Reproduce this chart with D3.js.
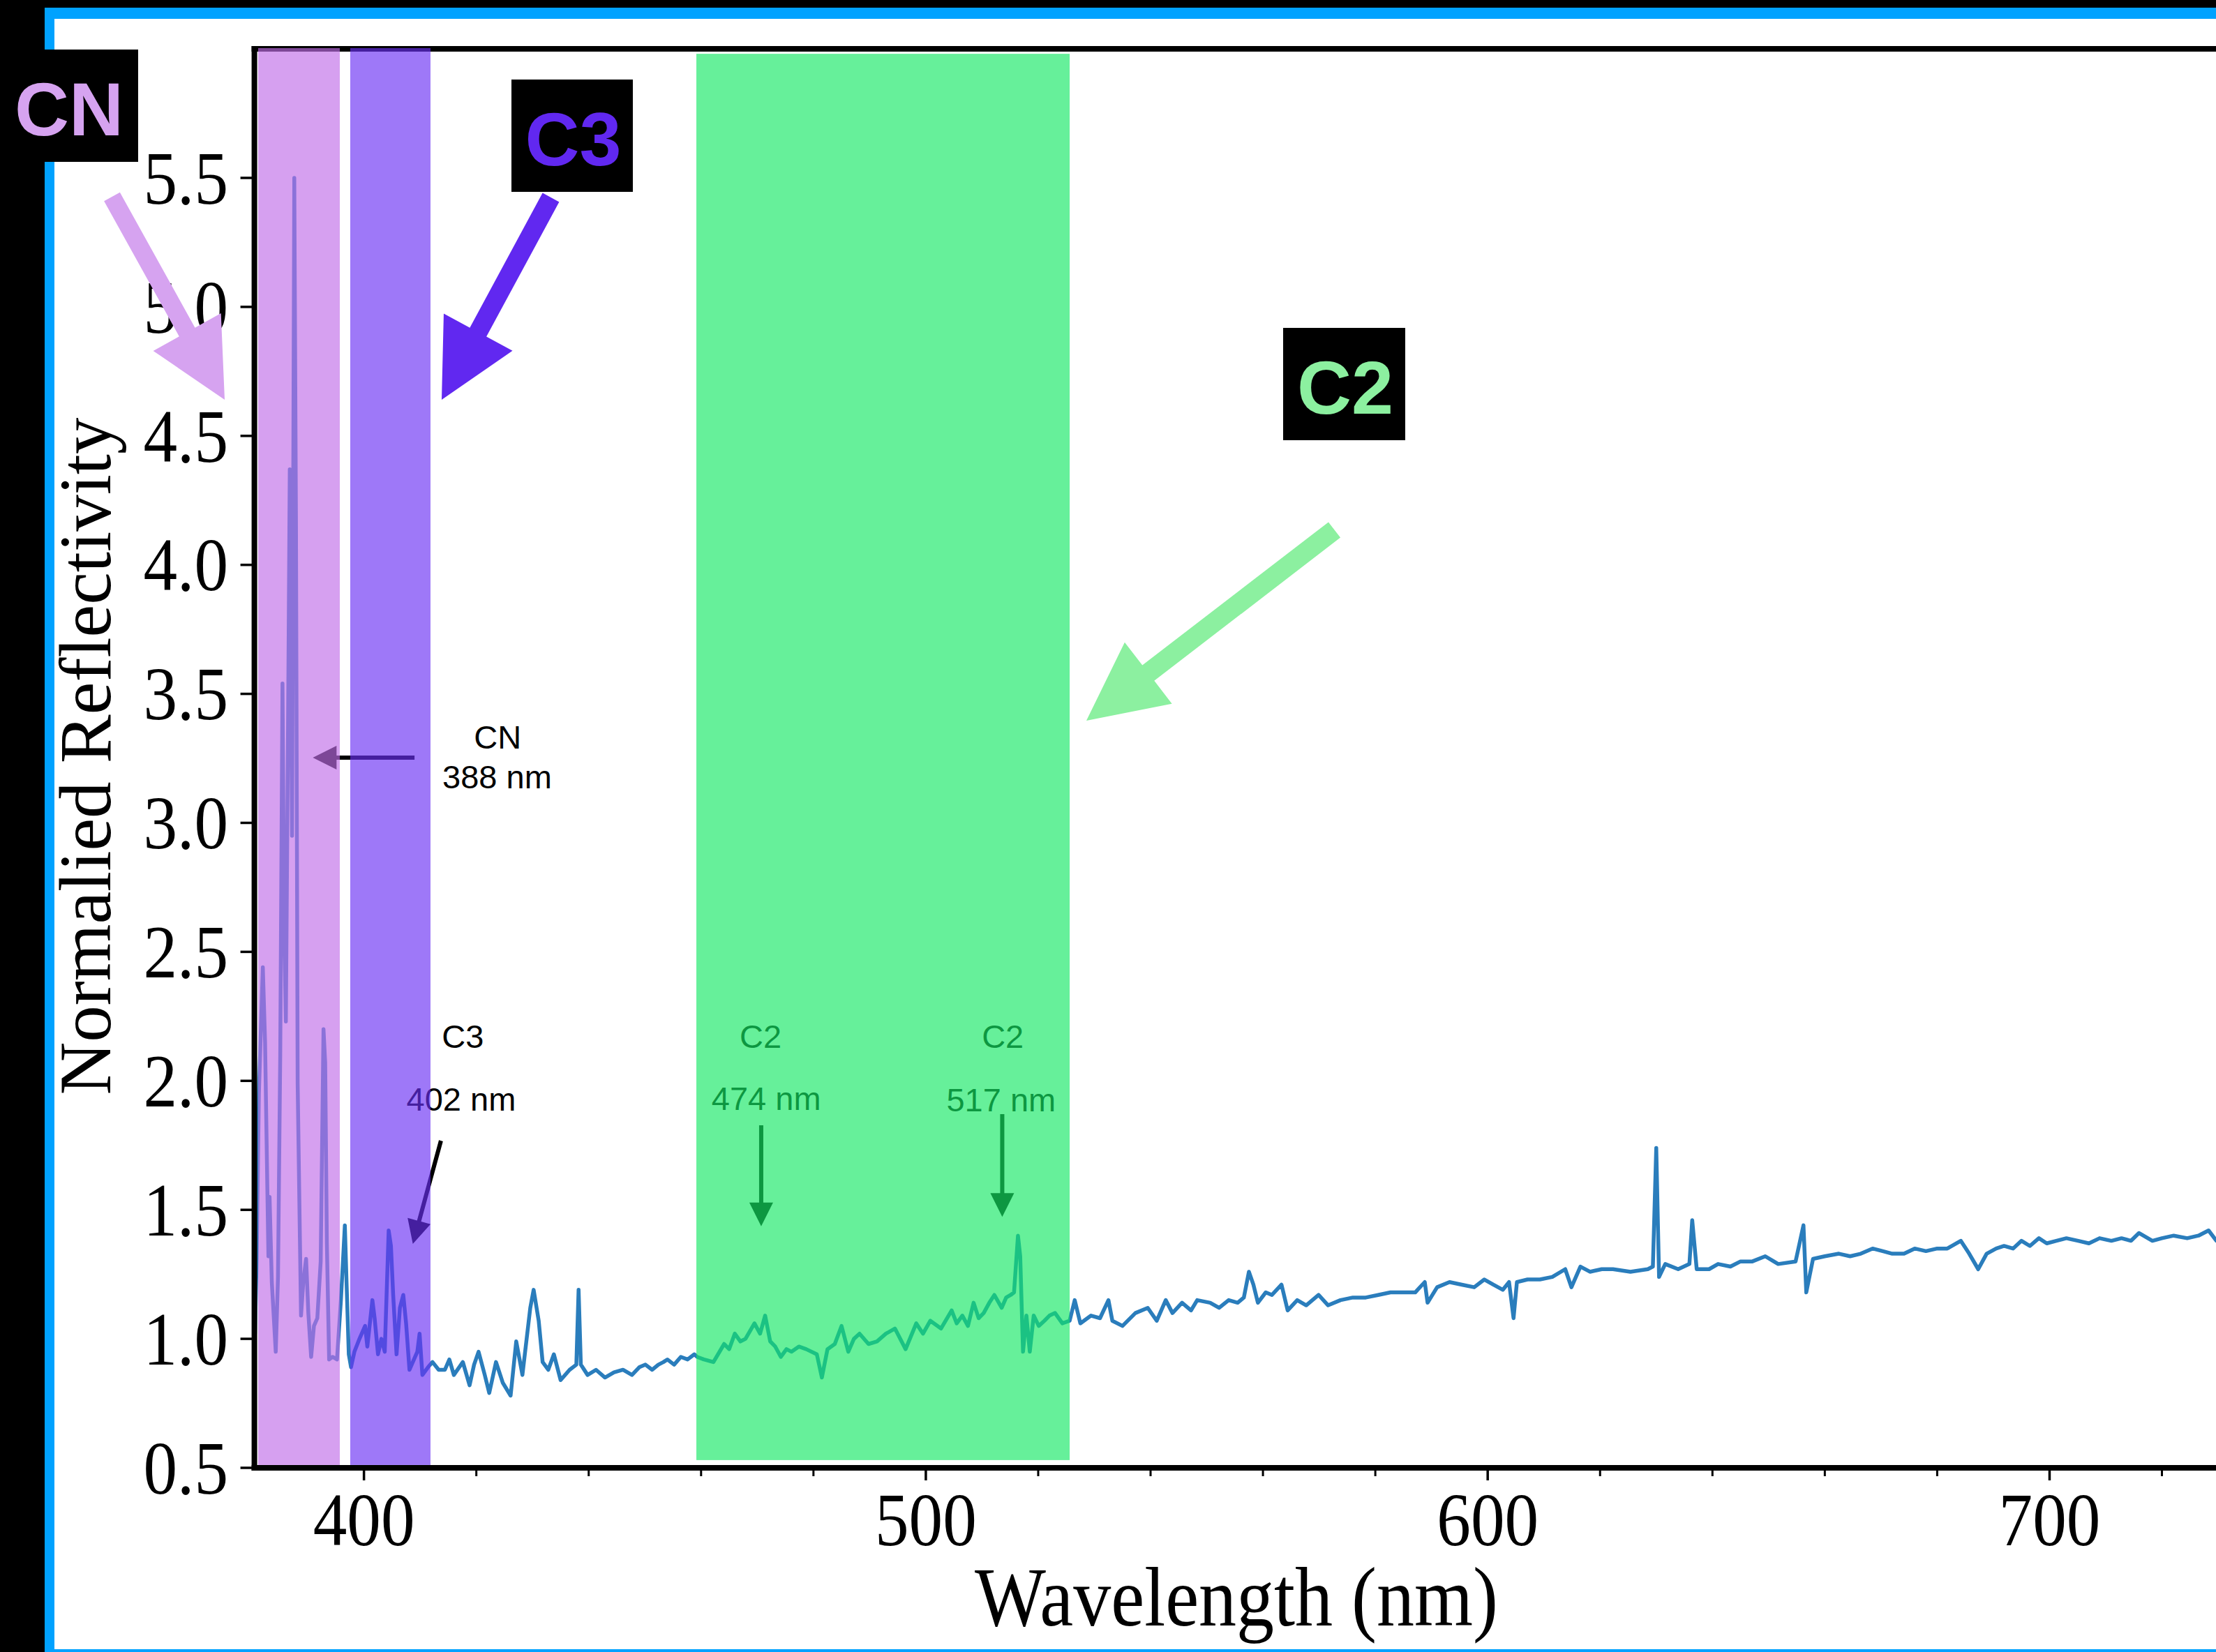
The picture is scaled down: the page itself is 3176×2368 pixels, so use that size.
<!DOCTYPE html>
<html><head><meta charset="utf-8">
<script src="https://cdn.jsdelivr.net/npm/d3@7"></script>
<style>html,body{margin:0;padding:0;background:#000;overflow:hidden}</style>
</head><body>
<svg id="chart" width="3176" height="2368"></svg>
<script>
// ---------- data ----------
const wavelength = [380.6,380.9,381.3,382.0,382.4,382.8,383.0,383.2,383.6,384.3,384.7,385.1,385.5,385.8,386.1,386.5,386.8,387.2,387.6,387.9,388.2,388.8,389.2,389.7,390.1,390.6,391.1,391.7,392.3,392.8,393.1,393.4,393.8,394.4,395.2,395.9,396.6,396.9,397.3,397.7,398.3,399.2,400.2,400.6,401.5,401.9,402.5,403.1,403.7,404.4,404.8,405.2,405.8,406.4,407.0,407.5,408.1,408.9,409.5,409.9,410.4,411.4,412.2,413.3,414.4,415.2,416.0,417.6,418.8,419.6,420.4,421.5,422.3,423.5,424.7,426.1,427.1,428.2,429.6,430.2,431.1,431.8,432.8,433.8,435.0,436.6,437.8,438.2,438.6,439.8,441.3,442.9,444.5,446.1,447.7,449.0,450.1,451.3,452.4,453.3,454.0,455.2,456.4,457.6,458.8,459.3,460.5,462.2,464.1,465.0,466.0,467.0,467.9,469.5,470.5,471.4,472.3,473.2,474.2,475.2,476.1,477.4,478.7,480.6,481.5,482.5,483.8,485.0,486.2,487.2,488.2,489.8,491.3,492.9,494.5,496.4,498.3,499.5,500.8,502.7,504.6,505.5,506.5,507.5,508.5,509.4,510.3,511.3,512.2,513.5,514.3,515.1,515.7,516.4,516.8,517.3,517.9,518.5,519.2,520.1,521.1,522.0,523.0,524.3,525.6,526.5,527.5,529.4,531.0,532.5,533.2,535.0,537.3,539.5,541.1,542.7,543.9,545.6,547.2,548.3,550.6,552.2,553.9,555.5,556.6,557.5,558.3,559.1,560.5,561.6,563.3,564.4,566.1,567.7,569.9,571.6,573.8,576.0,578.3,580.5,582.7,584.9,587.1,588.8,589.3,591.0,593.2,595.4,597.6,599.4,601.0,602.7,603.8,604.6,605.2,607.1,609.3,611.5,613.8,614.9,616.5,618.2,620.3,622.3,625.4,628.5,629.4,630.0,630.5,631.6,633.9,635.9,636.4,637.2,639.4,641.0,643.2,645.0,647.1,649.4,651.7,654.8,656.2,656.7,657.9,660.0,662.5,664.5,666.4,668.5,670.3,672.0,674.1,676.0,678.0,680.0,681.8,684.2,685.7,687.3,688.8,690.5,691.9,693.5,695.0,696.5,698.1,699.5,701.2,703.0,705.1,707.0,708.9,711.0,712.8,714.5,715.9,718.3,720.0,722.1,724.5,726.5,728.3,729.7,732.0];
const reflectivity = [1.02,1.31,1.95,2.44,2.15,1.59,1.32,1.55,1.22,0.95,1.24,2.10,3.54,2.60,2.23,3.40,4.37,2.95,5.50,4.15,1.99,1.09,1.22,1.31,1.10,0.93,1.05,1.08,1.30,2.20,2.07,1.37,0.92,0.93,0.92,1.15,1.44,1.22,0.94,0.89,0.95,1.00,1.05,0.97,1.15,1.08,0.94,1.00,0.95,1.42,1.36,1.17,0.94,1.12,1.17,1.06,0.88,0.92,0.95,1.02,0.86,0.89,0.91,0.88,0.88,0.92,0.86,0.91,0.82,0.90,0.95,0.86,0.79,0.91,0.83,0.78,0.99,0.86,1.12,1.19,1.07,0.91,0.88,0.94,0.84,0.88,0.90,1.19,0.90,0.86,0.88,0.85,0.87,0.88,0.86,0.89,0.90,0.88,0.90,0.91,0.92,0.90,0.93,0.92,0.94,0.93,0.92,0.91,0.98,0.96,1.02,0.99,1.00,1.06,1.02,1.09,0.99,0.97,0.93,0.96,0.95,0.97,0.96,0.94,0.85,0.96,0.98,1.05,0.95,1.00,1.02,0.98,0.99,1.02,1.04,0.96,1.06,1.02,1.07,1.04,1.11,1.06,1.09,1.05,1.14,1.08,1.10,1.14,1.17,1.12,1.16,1.17,1.18,1.40,1.32,0.95,1.09,0.95,1.09,1.05,1.07,1.09,1.10,1.06,1.07,1.15,1.06,1.09,1.08,1.15,1.07,1.05,1.10,1.12,1.07,1.15,1.10,1.14,1.11,1.15,1.14,1.12,1.15,1.14,1.16,1.26,1.21,1.14,1.18,1.17,1.21,1.11,1.15,1.13,1.17,1.13,1.15,1.16,1.16,1.17,1.18,1.18,1.18,1.22,1.14,1.20,1.22,1.21,1.20,1.23,1.21,1.19,1.22,1.08,1.22,1.23,1.23,1.24,1.27,1.20,1.28,1.26,1.27,1.27,1.26,1.27,1.28,1.74,1.24,1.29,1.27,1.29,1.46,1.27,1.27,1.29,1.28,1.30,1.30,1.32,1.29,1.30,1.44,1.18,1.31,1.32,1.33,1.32,1.33,1.35,1.34,1.33,1.33,1.35,1.34,1.35,1.35,1.38,1.33,1.27,1.33,1.35,1.36,1.35,1.38,1.36,1.39,1.37,1.38,1.39,1.38,1.37,1.39,1.38,1.39,1.38,1.41,1.38,1.39,1.40,1.39,1.40,1.42,1.38,1.40];

const yTickValues = [0.5,1.0,1.5,2.0,2.5,3.0,3.5,4.0,4.5,5.0,5.5];
const yTickLabels = ["0.5","1.0","1.5","2.0","2.5","3.0","3.5","4.0","4.5","5.0","5.5"];
const xMajorTicks = [400,500,600,700];
const xTickLabels = ["400","500","600","700"];
const xMinorTicks = [420,440,460,480,520,540,560,580,620,640,660,680,720,740];

const xTitle = "Wavelength (nm)";
const yTitle = "Normalied Reflectivity";

// highlighted emission bands (nm, reflectivity units)
const bandNames = ["CN","C3","C2"];
const bandStart = [381.17,397.56,459.16];
const bandEnd = [395.7,411.84,525.6];
const bandTop = [6.003,6.003,5.981];
const bandBottom = [0.511,0.511,0.530];

// line annotations
const annotSpecies = ["CN","C3","C2","C2"];
const annotWave = ["388 nm","402 nm","474 nm","517 nm"];
const annotSpeciesX = [423.8,417.6,470.6,513.7];
const annotSpeciesY = [3.288,2.128,2.128,2.128];
const annotWaveX = [423.7,417.3,471.6,513.4];
const annotWaveY = [3.134,1.885,1.887,1.882];
const arrowFromX = [409.0,413.7,470.7,513.6];
const arrowFromY = [3.253,1.768,1.828,1.871];
const arrowToX = [390.9,408.7,470.7,513.6];
const arrowToY = [3.253,1.368,1.436,1.473];

// ---------- layout ----------
const W = 3176, H = 2368;
const svg = d3.select("#chart");
const x = d3.scaleLinear().domain([380.5, 750]).range([364.6, 3340.1]);
const y = d3.scaleLinear().domain([0.5, 6.0]).range([2104, 70.1]);
const serif = "'Liberation Serif','Times New Roman',serif";
const sans = "'Liberation Sans',Arial,Helvetica,sans-serif";

// frame
svg.append("rect").attr("x",0).attr("y",0).attr("width",W).attr("height",H).attr("fill","#000");
svg.append("rect").attr("x",64).attr("y",11).attr("width",W).attr("height",H).attr("fill","#00A2FF");
svg.append("rect").attr("x",78).attr("y",27).attr("width",W).attr("height",2364-27).attr("fill","#fff");

// clip
const defs = svg.append("defs");
defs.append("clipPath").attr("id","plotclip").append("rect")
  .attr("x",x.range()[0]).attr("y",y.range()[1]).attr("width",x.range()[1]-x.range()[0]).attr("height",y.range()[0]-y.range()[1]);

// spectrum
const pts = wavelength.map((w,i)=>[w, reflectivity[i]]);
svg.append("path").datum(pts)
  .attr("clip-path","url(#plotclip)")
  .attr("fill","none").attr("stroke","#2a7dbc").attr("stroke-width",5.5)
  .attr("stroke-linejoin","round")
  .attr("d", d3.line().x(d=>x(d[0])).y(d=>y(d[1])));

// axes (custom, via scales)
const axisG = svg.append("g");
yTickValues.forEach((v,i)=>{
  axisG.append("line").attr("x1",x.range()[0]).attr("x2",x.range()[0]-20)
    .attr("y1",y(v)).attr("y2",y(v)).attr("stroke","#000").attr("stroke-width",3.5);
  axisG.append("text").attr("transform",`translate(327,${y(v)}) scale(0.9,1)`)
    .attr("text-anchor","end").attr("dy","0.34em")
    .attr("font-family",serif).attr("font-size",108).attr("fill","#000").text(yTickLabels[i]);
});
xMajorTicks.forEach((v,i)=>{
  axisG.append("line").attr("x1",x(v)).attr("x2",x(v)).attr("y1",y.range()[0]).attr("y2",y.range()[0]+18)
    .attr("stroke","#000").attr("stroke-width",3.5);
  axisG.append("text").attr("transform",`translate(${x(v)},2215) scale(0.9,1)`)
    .attr("text-anchor","middle")
    .attr("font-family",serif).attr("font-size",108).attr("fill","#000").text(xTickLabels[i]);
});
xMinorTicks.forEach(v=>{
  axisG.append("line").attr("x1",x(v)).attr("x2",x(v)).attr("y1",y.range()[0]).attr("y2",y.range()[0]+12)
    .attr("stroke","#000").attr("stroke-width",3);
});
const x0 = x.range()[0], x1 = x.range()[1], yb = y.range()[0], yt = y.range()[1];
axisG.append("line").attr("x1",x0).attr("x2",x0).attr("y1",yt-4).attr("y2",yb+4).attr("stroke","#000").attr("stroke-width",8);
axisG.append("line").attr("x1",x0-4).attr("x2",x1).attr("y1",yb).attr("y2",yb).attr("stroke","#000").attr("stroke-width",8);
axisG.append("line").attr("x1",x0-4).attr("x2",x1).attr("y1",yt).attr("y2",yt).attr("stroke","#000").attr("stroke-width",8);

// axis titles
svg.append("text").attr("transform","translate(1772,2330) scale(0.9,1)")
  .attr("text-anchor","middle").attr("font-family",serif).attr("font-size",120).attr("fill","#000").text(xTitle);
svg.append("text").attr("transform","translate(158,1084) rotate(-90)")
  .attr("text-anchor","middle").attr("font-family",serif).attr("font-size",105).attr("fill","#000").text(yTitle);

// small annotation arrows & labels (black)
function arrowPoly(tx,ty,hx,hy,sw,hw,hl){
  const dx=hx-tx, dy=hy-ty, L=Math.hypot(dx,dy), ux=dx/L, uy=dy/L, px=-uy, py=ux;
  const bx=hx-ux*hl, by=hy-uy*hl;
  const p=[[tx+px*sw/2,ty+py*sw/2],[bx+px*sw/2,by+py*sw/2],[bx+px*hw/2,by+py*hw/2],[hx,hy],
           [bx-px*hw/2,by-py*hw/2],[bx-px*sw/2,by-py*sw/2],[tx-px*sw/2,ty-py*sw/2]];
  return "M"+p.map(q=>q.join(",")).join("L")+"Z";
}
const annG = svg.append("g");
annotSpecies.forEach((s,i)=>{
  annG.append("path").attr("fill","#000")
    .attr("d", arrowPoly(x(arrowFromX[i]),y(arrowFromY[i]),x(arrowToX[i]),y(arrowToY[i]),6,34,34));
  annG.append("text").attr("x",x(annotSpeciesX[i])).attr("y",y(annotSpeciesY[i]))
    .attr("text-anchor","middle").attr("font-family",sans).attr("font-size",47).attr("fill","#000").text(s);
  annG.append("text").attr("x",x(annotWaveX[i])).attr("y",y(annotWaveY[i]))
    .attr("text-anchor","middle").attr("font-family",sans).attr("font-size",47).attr("fill","#000").text(annotWave[i]);
});

// translucent bands on top
const bandColors = ["rgb(192,109,232)","rgb(106,47,244)","rgb(20,232,100)"];
svg.append("g").selectAll("rect").data(bandNames).join("rect")
  .attr("x",(d,i)=>x(bandStart[i])).attr("width",(d,i)=>x(bandEnd[i])-x(bandStart[i]))
  .attr("y",(d,i)=>y(bandTop[i])).attr("height",(d,i)=>y(bandBottom[i])-y(bandTop[i]))
  .attr("fill",(d,i)=>bandColors[i]).attr("fill-opacity",0.65);

// big label boxes and arrows (overlay layout, px)
const labelColors = ["#D6A3F0","#6128F0","#8CF0A0"];
const boxes = [[0,71,198,161],[733,114,174,161],[1839,470,175,161]];
const boxTextX = [99,821.5,1928], boxTextY = [194,237,593];
const bigArrows = [[160.5,282,322,573,26,111,111],[789.5,283,633,573,27,112,110],[1912.5,759.5,1557,1033,28,111,112]];
bandNames.forEach((n,i)=>{
  const a = bigArrows[i];
  svg.append("path").attr("fill",labelColors[i]).attr("d",arrowPoly(a[0],a[1],a[2],a[3],a[4],a[5],a[6]));
  const b = boxes[i];
  svg.append("rect").attr("x",b[0]).attr("y",b[1]).attr("width",b[2]).attr("height",b[3]).attr("fill","#000");
  svg.append("text").attr("x",boxTextX[i]).attr("y",boxTextY[i]).attr("text-anchor","middle")
    .attr("font-family",sans).attr("font-weight","bold").attr("font-size",108).attr("fill",labelColors[i]).text(n);
});
</script>
</body></html>
